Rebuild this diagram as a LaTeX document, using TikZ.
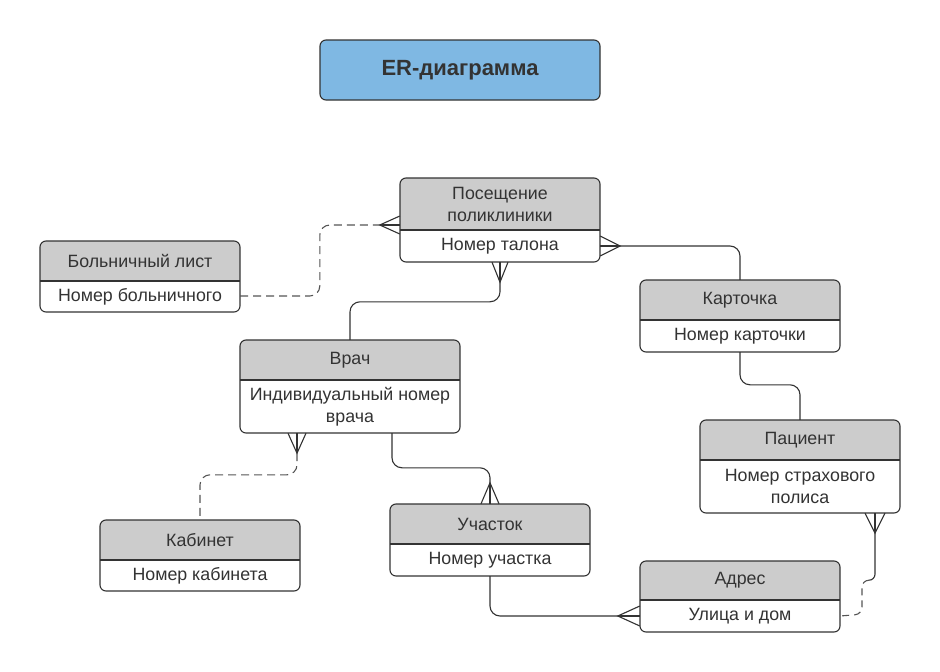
\documentclass[tikz,border=0pt]{standalone}
\usepackage{fontspec}
\setmainfont{Liberation Sans}
\usetikzlibrary{calc,fit}
\definecolor{headgray}{HTML}{CCCCCC}
\definecolor{titleblue}{HTML}{7FB8E3}
\definecolor{edgegray}{HTML}{333333}
\definecolor{dashgray}{HTML}{555555}
\definecolor{txtgray}{HTML}{333333}
\tikzset{
  boxline/.style={draw=edgegray, line width=1.1pt},
  conn/.style={draw=edgegray, line width=1.1pt},
  dconn/.style={draw=dashgray, line width=1.1pt, dash pattern=on 8pt off 5pt},
  txt/.style={text=txtgray, font=\fontsize{17.8}{22}\selectfont, align=center, inner sep=0pt},
  ttl/.style={text=txtgray, font=\fontsize{22}{26}\selectfont\bfseries, align=center, inner sep=0pt},
}
% name, x1, y1, x2, ydiv, y2, head, body
\newcommand{\entity}[8]{%
  \fill[white, rounded corners=6pt] (#2,#3) rectangle (#4,#6);
  \begin{scope}
    \clip[rounded corners=6pt] (#2,#3) rectangle (#4,#6);
    \fill[headgray] (#2,#3) rectangle (#4,#5);
  \end{scope}
  \draw[boxline, rounded corners=6pt] (#2,#3) rectangle (#4,#6);
  \draw[boxline] (#2,#5) -- (#4,#5);
  \coordinate (#1nw) at (#2,#3);
  \coordinate (#1se) at (#4,#6);
  \node[fit=(#1nw)(#1se), inner sep=0pt] (#1) {};
  \node[txt] (#1h) at ({(#2+#4)/2},{(#3+#5)/2}) {#7};
  \node[txt] (#1b) at ({(#2+#4)/2},{(#5+#6)/2}) {#8};
}
% edge point, vector to convergence, half spread
\newcommand{\crowat}[3]{%
  \draw[conn] ($#1+#3$) -- ($#1+#2$) -- ($#1-#3$);
  \draw[conn] #1 -- ($#1+#2$);
}
\begin{document}
\begin{tikzpicture}[x=1pt,y=-1pt]
\useasboundingbox (0,0) rectangle (940,672);
\fill[white] (0,0) rectangle (940,672);

% title
\draw[boxline, fill=titleblue, rounded corners=6pt] (320,40) rectangle (600,100);
\node[ttl] (title) at (460,70) {ER-диаграмма};

% entities
\entity{pos}{400}{178}{600}{230}{262}{Посещение\\поликлиники}{Номер талона}
\entity{bol}{40}{241}{240}{281}{312}{Больничный лист}{Номер больничного}
\entity{kar}{640}{280}{840}{320}{352}{Карточка}{Номер карточки}
\entity{vra}{240}{340}{460}{380}{433}{Врач}{Индивидуальный номер\\врача}
\entity{pac}{700}{420}{900}{460}{513}{Пациент}{Номер страхового\\полиса}
\entity{kab}{100}{520}{300}{560}{591}{Кабинет}{Номер кабинета}
\entity{uch}{390}{504}{590}{544}{576}{Участок}{Номер участка}
\entity{adr}{640}{561}{840}{600}{632}{Адрес}{Улица и дом}

% edge points
\coordinate (e1) at ($(pos.west)+(0,5)$);
\coordinate (e2) at ($(pos.south)+(0,0)$);
\coordinate (e3) at ($(pos.east)+(0,26)$);
\coordinate (e5) at ($(vra.south)+(-53,0)$);
\coordinate (e6) at (uch.north);
\coordinate (e7) at ($(adr.west)+(0,19.5)$);
\coordinate (e8) at ($(pac.south)+(75,0)$);
\coordinate (m8) at ($(pac.south)+(75,67)$);

% 1: Больничный лист -- Посещение (dashed)
\draw[dconn, rounded corners=10pt] ($(bol.east)+(0,19.5)$) -| ($(e1)+(-80,0)$) -- ($(e1)+(-20,0)$);
\crowat{(e1)}{(-20,0)}{(0,9)}

% 2: Посещение -- Врач
\draw[conn, rounded corners=10pt] ($(e2)+(0,20)$) |- ($(vra.north)+(0,-38)$) -- ($(vra.north)+(0,0)$);
\crowat{(e2)}{(0,20)}{(8,0)}

% 3: Посещение -- Карточка
\draw[conn, rounded corners=10pt] ($(e3)+(20,0)$) -| (kar.north);
\crowat{(e3)}{(20,0)}{(0,10)}

% 4: Карточка -- Пациент
\draw[conn, rounded corners=10pt] (kar.south) |- ($(pac.north)+(0,-35)$) -- (pac.north);

% 5: Врач -- Кабинет (dashed)
\draw[dconn, rounded corners=10pt] ($(e5)+(0,20)$) |- ($(kab.north)+(0,-45)$) -- (kab.north);
\crowat{(e5)}{(0,20)}{(9,0)}

% 6: Врач -- Участок
\draw[conn, rounded corners=10pt] ($(vra.south)+(42,0)$) |- ($(e6)+(0,-36)$) -- ($(e6)+(0,-21)$);
\crowat{(e6)}{(0,-21)}{(9,0)}

% 7: Участок -- Адрес
\draw[conn, rounded corners=10pt] (uch.south) |- ($(e7)+(-22,0)$);
\crowat{(e7)}{(-22,0)}{(0,10)}

% 8: Пациент -- Адрес
\draw[conn, rounded corners=6pt] ($(e8)+(0,20)$) -- (m8) -- ($(m8)+(-6,0)$);
\draw[dconn, dash pattern=on 7pt off 5pt, rounded corners=7pt] ($(m8)+(-6,0)$) -- ($(m8)+(-13,0)$) -- ($(m8)+(-13,34)$) -- ($(adr.east)+(0,19.5)$);
\crowat{(e8)}{(0,20)}{(10,0)}
\end{tikzpicture}
\end{document}
